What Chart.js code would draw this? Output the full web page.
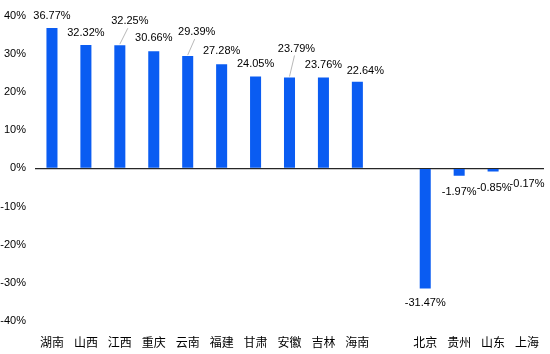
<!DOCTYPE html>
<html><head><meta charset="utf-8">
<script src="https://cdn.jsdelivr.net/npm/chart.js@4.4.1/dist/chart.umd.min.js"></script>
<style>html,body{margin:0;padding:0;background:#fff}#wrap{width:550px;height:354px}</style>
</head><body><div id="wrap"><canvas id="c" width="550" height="354"></canvas></div>
<script>
const categories = ['湖南','山西','江西','重庆','云南','福建','甘肃','安徽','吉林','海南','','北京','贵州','山东','上海'];
const values = [36.77,32.32,32.25,30.66,29.39,27.28,24.05,23.79,23.76,22.64,null,-31.47,-1.97,-0.85,-0.17];
const yTicks = [-40,-30,-20,-10,0,10,20,30,40];

// label placement tweaks (dx, dy of label centre from bar end) and leader lines
const labelOffsets = [[0,-12],[0,-12],[10,-24],[0,-13],[9,-24],[0,-13],[0,-13],[7,-29],[0,-13],[8,-11],null,[0,15],[0,16],[1,16],[0,15]];
const leaders = {2:true,4:true,7:true};

const labelPlugin = {
  id:'barLabels',
  afterDatasetsDraw(chart){
    const ctx = chart.ctx;
    const meta = chart.getDatasetMeta(0);
    ctx.save();
    ctx.font = '11px "Liberation Sans"';
    ctx.fillStyle = '#000';
    ctx.textAlign = 'center';
    ctx.textBaseline = 'middle';
    meta.data.forEach((el,i)=>{
      const v = values[i];
      if (v === null || v === undefined) return;
      const off = labelOffsets[i];
      const lx = el.x + off[0], ly = el.y + off[1];
      if (leaders[i]) {
        ctx.strokeStyle = '#a6a6a6'; ctx.lineWidth = 0.8;
        ctx.beginPath(); ctx.moveTo(el.x, el.y - 1); ctx.lineTo(lx - 2, ly + 7); ctx.stroke();
      }
      ctx.fillText(v.toFixed(2) + '%', lx, ly);
    });
    ctx.restore();
  }
};

new Chart(document.getElementById('c'), {
  type:'bar',
  data:{labels:categories, datasets:[{data:values, backgroundColor:'#0A5CF2', borderWidth:0, barPercentage:0.65, categoryPercentage:0.5}]},
  options:{
    responsive:false, animation:false,
    layout:{padding:{top:15,right:6,left:0,bottom:0}},
    plugins:{legend:{display:false}, tooltip:{enabled:false}},
    scales:{
      x:{
        grid:{display:false}, border:{display:false},
        ticks:{font:{family:'"Noto Sans CJK SC"', size:12}, color:'#000', padding:6, autoSkip:false, maxRotation:0},
        afterFit(s){ s.height = 33; }
      },
      y:{
        min:-40, max:40,
        afterBuildTicks(s){ s.ticks = yTicks.map(v=>({value:v})); },
        border:{display:false},
        grid:{drawTicks:false, color:(c)=> c.tick && c.tick.value===0 ? '#262626' : 'rgba(0,0,0,0)', lineWidth:1.3},
        ticks:{font:{family:'"Liberation Sans"', size:11}, color:'#000', padding:9, callback:(v)=>v+'%'},
        afterFit(s){ s.width = 35; }
      }
    }
  },
  plugins:[labelPlugin]
});
</script></body></html>
